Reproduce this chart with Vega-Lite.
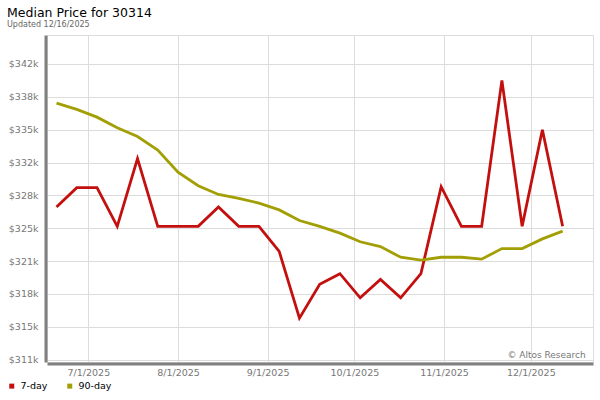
{
  "$schema": "https://vega.github.io/schema/vega-lite/v6.json",
  "width": 546,
  "height": 327,
  "autosize": {"type": "none"},
  "padding": {"left": 47, "top": 35, "right": 7, "bottom": 38},
  "background": "white",
  "config": {
    "font": "DejaVu Sans",
    "view": {"stroke": "#dcdcdc", "strokeWidth": 1}
  },
  "title": {
    "text": "Median Price for 30314",
    "subtitle": "Updated 12/16/2025",
    "anchor": "start",
    "frame": "group",
    "dx": -40,
    "offset": 6,
    "fontSize": 12.5,
    "fontWeight": "normal",
    "color": "#000000",
    "subtitleFontSize": 8,
    "subtitleColor": "#666666",
    "subtitlePadding": 2
  },
  "datasets": {
    "prices": [
      {"date": "2025-06-20", "series": "7-day", "price": 327000},
      {"date": "2025-06-27", "series": "7-day", "price": 329000},
      {"date": "2025-07-04", "series": "7-day", "price": 329000},
      {"date": "2025-07-11", "series": "7-day", "price": 325000},
      {"date": "2025-07-18", "series": "7-day", "price": 332000},
      {"date": "2025-07-25", "series": "7-day", "price": 325000},
      {"date": "2025-08-01", "series": "7-day", "price": 325000},
      {"date": "2025-08-08", "series": "7-day", "price": 325000},
      {"date": "2025-08-15", "series": "7-day", "price": 327000},
      {"date": "2025-08-22", "series": "7-day", "price": 325000},
      {"date": "2025-08-29", "series": "7-day", "price": 325000},
      {"date": "2025-09-05", "series": "7-day", "price": 322400},
      {"date": "2025-09-12", "series": "7-day", "price": 315500},
      {"date": "2025-09-19", "series": "7-day", "price": 319000},
      {"date": "2025-09-26", "series": "7-day", "price": 320100},
      {"date": "2025-10-03", "series": "7-day", "price": 317600},
      {"date": "2025-10-10", "series": "7-day", "price": 319500},
      {"date": "2025-10-17", "series": "7-day", "price": 317600},
      {"date": "2025-10-24", "series": "7-day", "price": 320100},
      {"date": "2025-10-31", "series": "7-day", "price": 329100},
      {"date": "2025-11-07", "series": "7-day", "price": 325000},
      {"date": "2025-11-14", "series": "7-day", "price": 325000},
      {"date": "2025-11-21", "series": "7-day", "price": 340100},
      {"date": "2025-11-28", "series": "7-day", "price": 325000},
      {"date": "2025-12-05", "series": "7-day", "price": 335000},
      {"date": "2025-12-12", "series": "7-day", "price": 325000},
      {"date": "2025-06-20", "series": "90-day", "price": 337750},
      {"date": "2025-06-27", "series": "90-day", "price": 337100},
      {"date": "2025-07-04", "series": "90-day", "price": 336300},
      {"date": "2025-07-11", "series": "90-day", "price": 335200},
      {"date": "2025-07-18", "series": "90-day", "price": 334300},
      {"date": "2025-07-25", "series": "90-day", "price": 332900},
      {"date": "2025-08-01", "series": "90-day", "price": 330600},
      {"date": "2025-08-08", "series": "90-day", "price": 329200},
      {"date": "2025-08-15", "series": "90-day", "price": 328300},
      {"date": "2025-08-22", "series": "90-day", "price": 327900},
      {"date": "2025-08-29", "series": "90-day", "price": 327400},
      {"date": "2025-09-05", "series": "90-day", "price": 326700},
      {"date": "2025-09-12", "series": "90-day", "price": 325600},
      {"date": "2025-09-19", "series": "90-day", "price": 325000},
      {"date": "2025-09-26", "series": "90-day", "price": 324300},
      {"date": "2025-10-03", "series": "90-day", "price": 323400},
      {"date": "2025-10-10", "series": "90-day", "price": 322900},
      {"date": "2025-10-17", "series": "90-day", "price": 321800},
      {"date": "2025-10-24", "series": "90-day", "price": 321500},
      {"date": "2025-10-31", "series": "90-day", "price": 321800},
      {"date": "2025-11-07", "series": "90-day", "price": 321800},
      {"date": "2025-11-14", "series": "90-day", "price": 321600},
      {"date": "2025-11-21", "series": "90-day", "price": 322700},
      {"date": "2025-11-28", "series": "90-day", "price": 322700},
      {"date": "2025-12-05", "series": "90-day", "price": 323700},
      {"date": "2025-12-12", "series": "90-day", "price": 324500}
    ]
  },
  "layer": [
    {
      "data": {"name": "prices"},
      "mark": {"type": "line", "strokeWidth": 2.8, "strokeJoin": "miter", "clip": true},
      "encoding": {
        "x": {
          "field": "date",
          "type": "temporal",
          "scale": {
            "type": "utc",
            "domain": [
              {"year": 2025, "month": 6, "date": 16, "hours": 17, "utc": true},
              {"year": 2025, "month": 12, "date": 22, "hours": 12, "utc": true}
            ]
          },
          "axis": {
            "title": null,
            "values": [
              {"year": 2025, "month": 7, "date": 1, "utc": true},
              {"year": 2025, "month": 8, "date": 1, "utc": true},
              {"year": 2025, "month": 9, "date": 1, "utc": true},
              {"year": 2025, "month": 10, "date": 1, "utc": true},
              {"year": 2025, "month": 11, "date": 1, "utc": true},
              {"year": 2025, "month": 12, "date": 1, "utc": true}
            ],
            "tickCount": 20,
            "labelExpr": "utcFormat(datum.value, '%-m/%-d/%Y')",
            "labelFontSize": 9.5,
            "labelColor": "#777777",
            "labelPadding": 4,
            "labelOverlap": false,
            "ticks": false,
            "domainColor": "#808080",
            "domainWidth": 3,
            "offset": 1.5,
            "gridColor": "#dcdcdc",
            "gridWidth": 1,
            "labelFlush": false
          }
        },
        "y": {
          "field": "price",
          "type": "quantitative",
          "scale": {"domain": [310960, 344800], "zero": false, "nice": false},
          "axis": {
            "title": null,
            "values": [311200, 314600, 318000, 321400, 324800, 328200, 331600, 335000, 338400, 341800],
            "tickCount": 20,
            "labelExpr": "'$' + round(datum.value / 1000) + 'k'",
            "labelFontSize": 9.5,
            "labelColor": "#777777",
            "labelPadding": 7.5,
            "labelOverlap": false,
            "labelFlush": false,
            "ticks": false,
            "domainColor": "#808080",
            "domainWidth": 3,
            "offset": 1.5,
            "gridColor": "#dcdcdc",
            "gridWidth": 1
          }
        },
        "color": {
          "field": "series",
          "type": "nominal",
          "scale": {"domain": ["7-day", "90-day"], "range": ["#c40f0f", "#a29f05"]},
          "legend": {
            "title": null,
            "orient": "none",
            "legendX": -40,
            "legendY": 346,
            "direction": "horizontal",
            "symbolType": "square",
            "symbolSize": 25,
            "symbolStrokeWidth": 0,
            "labelFontSize": 9.5,
            "labelColor": "#000000",
            "labelOffset": 4,
            "columnPadding": 17,
            "encode": {
              "symbols": {
                "update": {
                  "fill": {"scale": "color", "field": "value"},
                  "fillOpacity": {"value": 1},
                  "strokeWidth": {"value": 0}
                }
              }
            }
          }
        }
      }
    },
    {
      "data": {"values": [{}]},
      "mark": {"type": "text", "text": "© Altos Research", "align": "right", "baseline": "alphabetic", "fontSize": 9, "color": "#777777"},
      "encoding": {
        "x": {"datum": {"year": 2025, "month": 12, "date": 20, "utc": true}, "type": "temporal"},
        "y": {"datum": 311400, "type": "quantitative"}
      }
    }
  ]
}
